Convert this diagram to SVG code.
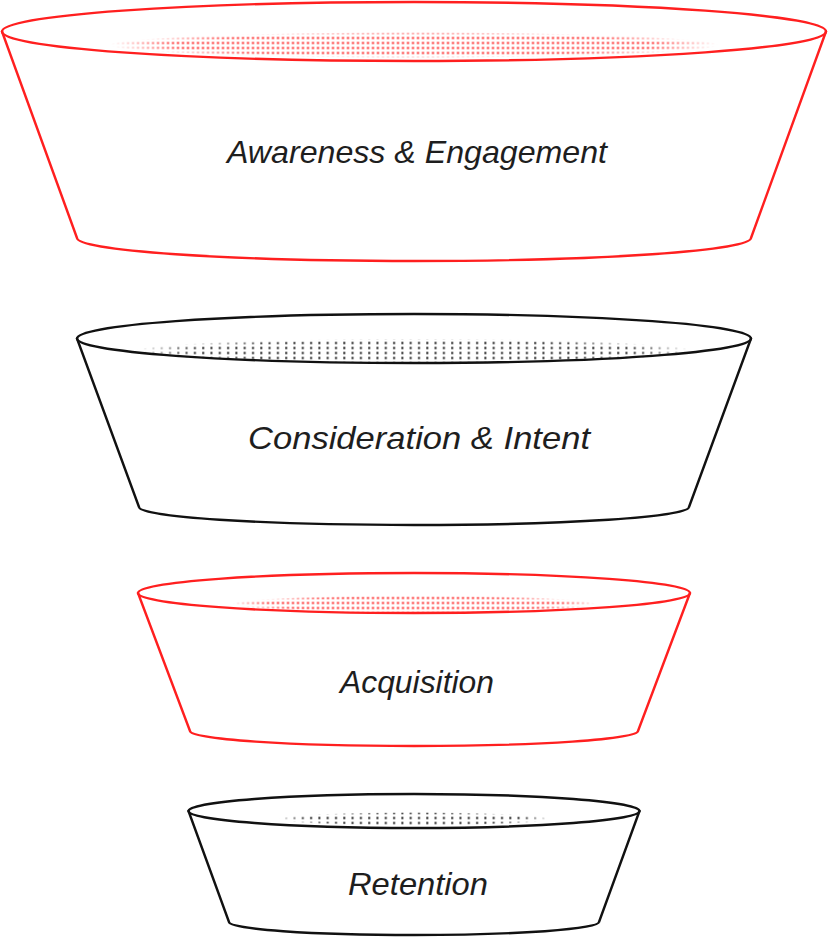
<svg xmlns="http://www.w3.org/2000/svg" width="828" height="938" viewBox="0 0 828 938">
<style>
  .red { fill: none; stroke: #ff1f1f; stroke-width: 2.4; stroke-linejoin: round; stroke-linecap: round; }
  .blk { fill: none; stroke: #111111; stroke-width: 2.4; stroke-linejoin: round; stroke-linecap: round; }
  .lbl { font-family: "Liberation Sans", Arial, sans-serif; font-style: italic; font-size: 32px; fill: #1e1e1e; text-anchor: middle; }
</style>
<defs>
  <pattern id="dotsRed" x="0.5" y="0.5" width="5" height="5" patternUnits="userSpaceOnUse">
    <rect x="1.5" y="1.5" width="2" height="2" fill="#ff1f1f"/>
  </pattern>
  <pattern id="dotsBlk" x="0" y="0.5" width="8.3" height="5" patternUnits="userSpaceOnUse">
    <rect x="3" y="1.5" width="2" height="2" fill="#111111"/>
  </pattern>
  <radialGradient id="fade" cx="0.5" cy="0.5" r="0.5">
    <stop offset="0" stop-color="#fff"/>
    <stop offset="0.8" stop-color="#fff"/>
    <stop offset="1" stop-color="#000"/>
  </radialGradient>
  <mask id="fadeMask" maskContentUnits="objectBoundingBox">
    <rect x="0" y="0" width="1" height="1" fill="url(#fade)"/>
  </mask>
</defs>

<g id="connectors"></g>

<g id="awareness">
  <ellipse cx="414" cy="45" rx="305" ry="13" fill="url(#dotsRed)" mask="url(#fadeMask)"/>
  <ellipse class="red" cx="414" cy="31.5" rx="412" ry="29.5"/>
  <path class="red" d="M2,31.5 L77,238 A337,23 0 0 0 751,238 L826,31.5"/>
  <text class="lbl" x="417" y="163" textLength="380" lengthAdjust="spacingAndGlyphs">Awareness &amp; Engagement</text>
</g>

<g id="consideration">
  <ellipse cx="414" cy="351" rx="280" ry="12.5" fill="url(#dotsBlk)" mask="url(#fadeMask)"/>
  <ellipse class="blk" cx="414" cy="338.5" rx="337" ry="24.5"/>
  <path class="blk" d="M77,338.5 L139,507 A275,18 0 0 0 689,507 L751,338.5"/>
  <text class="lbl" x="419" y="449" textLength="342" lengthAdjust="spacingAndGlyphs">Consideration &amp; Intent</text>
</g>

<g id="acquisition">
  <ellipse cx="414" cy="604" rx="182" ry="9" fill="url(#dotsRed)" mask="url(#fadeMask)"/>
  <ellipse class="red" cx="414" cy="593" rx="276" ry="20"/>
  <path class="red" d="M138,593 L190,731 A224,15 0 0 0 638,731 L690,593"/>
  <text class="lbl" x="417" y="693" textLength="154" lengthAdjust="spacingAndGlyphs">Acquisition</text>
</g>

<g id="retention">
  <ellipse cx="414" cy="819" rx="136" ry="7" fill="url(#dotsBlk)" mask="url(#fadeMask)"/>
  <ellipse class="blk" cx="414" cy="811" rx="225.5" ry="17"/>
  <path class="blk" d="M188.5,811 L229,922 A185,13 0 0 0 599,922 L639.5,811"/>
  <text class="lbl" x="418" y="895" textLength="140" lengthAdjust="spacingAndGlyphs">Retention</text>
</g>
</svg>
